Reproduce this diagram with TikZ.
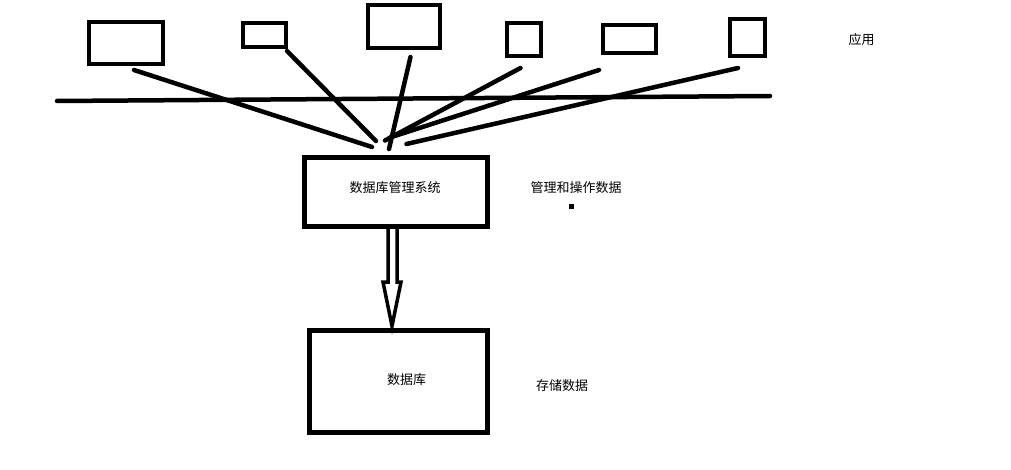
\documentclass[tikz,border=0pt]{standalone}
\usepackage{fontspec}
\newfontfamily\cjk{Noto Sans CJK SC}
\begin{document}
\begin{tikzpicture}[x=1pt,y=-1pt,
  appbox/.style={draw,line width=4pt,inner sep=0pt,rectangle},
  bigbox/.style={draw,line width=5pt,inner sep=0pt,rectangle},
  conn/.style={line width=4.5pt,line cap=round},
  lbl/.style={font=\cjk\fontsize{13}{15}\selectfont,inner sep=0pt}]
\useasboundingbox (0,0) rectangle (1011,470);
% application boxes
\node[appbox,minimum width=74pt,minimum height=42pt] (b1) at (126,43) {};
\node[appbox,minimum width=43pt,minimum height=24pt] (b2) at (264.5,35) {};
\node[appbox,minimum width=72pt,minimum height=42.5pt] (b3) at (404,26.75) {};
\node[appbox,minimum width=34pt,minimum height=33pt] (b4) at (524,39.5) {};
\node[appbox,minimum width=53pt,minimum height=28pt] (b5) at (629.5,39) {};
\node[appbox,minimum width=35pt,minimum height=37pt] (b6) at (747.5,37.5) {};
% horizontal line
\coordinate (hl) at (57,101);
\coordinate (hr) at (770,96);
\draw[conn] (hl) -- (hr);
% line end points
\coordinate (s1) at (134,70);   \coordinate (e1) at (372,147);
\coordinate (s2) at (287,51);   \coordinate (e2) at (376,141);
\coordinate (s3) at (410.5,57); \coordinate (e3) at (389,149);
\coordinate (s4) at (520.5,68); \coordinate (e4) at (385,140.5);
\coordinate (s5) at (599,70);   \coordinate (e5) at (390,137.5);
\coordinate (s6) at (738,68);   \coordinate (e6) at (406.5,144);
\foreach \i in {1,...,6} \draw[conn] (s\i) -- (e\i);
% DBMS
\node[bigbox,minimum width=183pt,minimum height=69pt] (dbms) at (396,192) {};
\node[lbl] (dbmst) at (395,188) {数据库管理系统};
\node[lbl] (op) at (576,188) {管理和操作数据};
\fill (569.2,204.2) rectangle ++(5,5);
% DB
\node[bigbox,minimum width=178.5pt,minimum height=102pt] (db) at (398.25,381.5) {};
\node[lbl] (dbt) at (406.5,379.5) {数据库};
\node[lbl] (st) at (562,386) {存储数据};
\node[lbl] (app) at (861.5,40) {应用};
% hollow arrow
\draw[line width=3.5pt,line join=miter]
  (388,229) -- (388,282) -- (383,282) -- (392,326) -- (401,282) -- (397,282) -- (397,229);
\end{tikzpicture}
\end{document}
